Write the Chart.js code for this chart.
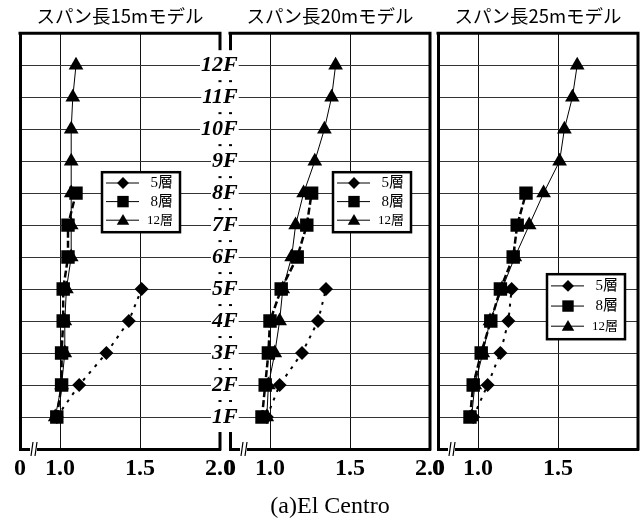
<!DOCTYPE html>
<html>
<head>
<meta charset="utf-8">
<script src="https://cdn.jsdelivr.net/npm/chart.js@4.4.0/dist/chart.umd.min.js"></script>
<style>
    html, body { margin: 0; padding: 0; background: #fff; overflow: hidden; width: 640px; height: 524px; }
    canvas { position: absolute; top: 0; }
</style>
</head>
<body>
<canvas id="c15" style="left:0px" width="250" height="524"></canvas>
<canvas id="c25" style="left:400px" width="280" height="524"></canvas>
<canvas id="c20" style="left:150px" width="310" height="524"></canvas>
<script>
// tick labels
var floors = ['1F', '2F', '3F', '4F', '5F', '6F', '7F', '8F', '9F', '10F', '11F', '12F'];
var xTicks = [0.75, 1.0, 1.5, 2.0];
var xTickLabels = ['0', '1.0', '1.5', '2.0'];
var seriesNames = ['5層', '8層', '12層'];
var panelTitles = ['スパン長15mモデル', 'スパン長20mモデル', 'スパン長25mモデル'];
var caption = '(a)El Centro';

// values per floor, from 1F upward
var span15_5 = [0.98, 1.12, 1.29, 1.43, 1.51];
var span15_8 = [0.98, 1.01, 1.01, 1.02, 1.02, 1.05, 1.05, 1.10];
var span15_12 = [0.97, 1.01, 1.03, 1.03, 1.04, 1.07, 1.07, 1.07, 1.07, 1.07, 1.08, 1.10];

var span20_5 = [0.98, 1.06, 1.20, 1.30, 1.35];
var span20_8 = [0.95, 0.97, 0.99, 1.00, 1.07, 1.17, 1.23, 1.26];
var span20_12 = [0.98, 0.99, 1.03, 1.06, 1.08, 1.135, 1.16, 1.21, 1.28, 1.34, 1.385, 1.41];

var span25_5 = [0.97, 1.06, 1.14, 1.19, 1.21];
var span25_8 = [0.95, 0.97, 1.02, 1.08, 1.14, 1.22, 1.245, 1.30];
var span25_12 = [0.96, 0.98, 1.03, 1.075, 1.15, 1.23, 1.32, 1.41, 1.51, 1.54, 1.59, 1.62];

var serif = '"Liberation Serif", "Noto Sans CJK JP", serif';

function toPoints(vals) {
    return vals.map((v, i) => ({ x: v, y: i + 1 }));
}

function drawMarker(ctx, style, x, y, r) {
    ctx.beginPath();
    if (style === 'rectRot') {
        ctx.moveTo(x, y - r); ctx.lineTo(x + r, y); ctx.lineTo(x, y + r); ctx.lineTo(x - r, y);
    } else if (style === 'rect') {
        var s = r * Math.SQRT1_2;
        ctx.rect(x - s, y - s, 2 * s, 2 * s);
    } else {
        ctx.moveTo(x, y - r);
        ctx.lineTo(x + r * Math.sin(Math.PI / 3), y + r / 2);
        ctx.lineTo(x - r * Math.sin(Math.PI / 3), y + r / 2);
    }
    ctx.closePath();
    ctx.fill();
}

// top and right edges of the frame + axis break mark
var framePlugin = {
    id: 'frame',
    beforeDatasetsDraw(chart) {
        var ctx = chart.ctx, a = chart.chartArea;
        ctx.save();
        ctx.strokeStyle = '#000';
        ctx.lineWidth = 3;
        ctx.lineCap = 'square';
        ctx.beginPath();
        ctx.moveTo(a.left, a.top);
        ctx.lineTo(a.right, a.top);
        ctx.lineTo(a.right, a.bottom);
        ctx.stroke();
        var bx = a.left + 13, by = a.bottom;
        ctx.fillStyle = '#fff';
        ctx.fillRect(bx - 3, by - 2, 7, 4);
        ctx.lineWidth = 1.2;
        ctx.lineCap = 'butt';
        ctx.beginPath();
        ctx.moveTo(bx - 2, by + 7); ctx.lineTo(bx, by - 7);
        ctx.moveTo(bx + 2, by + 7); ctx.lineTo(bx + 4, by - 7);
        ctx.stroke();
        ctx.restore();
    }
};

// boxed legend placed inside the plot
var boxLegend = {
    id: 'boxLegend',
    afterDraw(chart, args, o) {
        var ctx = chart.ctx, a = chart.chartArea;
        var x = a.left + o.dx, y = a.top + o.dy, w = 78, h = o.h;
        ctx.save();
        ctx.fillStyle = '#fff';
        ctx.fillRect(x, y, w, h);
        ctx.strokeStyle = '#000';
        ctx.lineWidth = 2.5;
        ctx.strokeRect(x, y, w, h);
        chart.data.datasets.forEach((ds, i) => {
            var cy = y + h * (0.18 + i * 0.31);
            ctx.lineWidth = 1;
            ctx.beginPath();
            ctx.moveTo(x + 4, cy); ctx.lineTo(x + 37, cy);
            ctx.stroke();
            ctx.fillStyle = '#000';
            drawMarker(ctx, ds.pointStyle, x + 21, cy + (ds.pointStyle === 'triangle' ? 1 : 0), ds.pointRadius * 0.85);
            ctx.font = (i === 2 ? '13px ' : '15px ') + serif;
            ctx.textAlign = 'right';
            ctx.textBaseline = 'middle';
            ctx.fillText(ds.label, x + 71, cy);
        });
        ctx.restore();
    }
};

function makeDatasets(v5, v8, v12) {
    return [{
        label: seriesNames[0],
        data: toPoints(v5),
        borderColor: '#000', backgroundColor: '#000',
        borderWidth: 2, borderDash: [3, 6],
        pointStyle: 'rectRot', pointRadius: 7, pointBorderWidth: 0,
        order: 2
    }, {
        label: seriesNames[1],
        data: toPoints(v8),
        borderColor: '#000', backgroundColor: '#000',
        borderWidth: 2.5, borderDash: [7, 3],
        pointStyle: 'rect', pointRadius: 9.5, pointBorderWidth: 0,
        order: 0
    }, {
        label: seriesNames[2],
        data: toPoints(v12),
        borderColor: '#000', backgroundColor: '#000',
        borderWidth: 1,
        pointStyle: 'triangle', pointRadius: 8.5, pointBorderWidth: 0,
        order: 1
    }];
}

function makeChart(id, title, datasets, cfg) {
    var xScale = {
        type: 'linear',
        min: 0.75, max: 2.0,
        afterBuildTicks: s => { s.ticks = xTicks.map(v => ({ value: v })); },
        ticks: {
            autoSkip: false, maxRotation: 0, padding: 8, color: '#000',
            font: { family: serif, size: 24, weight: 'bold', lineHeight: 1 },
            // the last panel is cut off at the page edge, its 2.0 label is not shown
            callback: (v, i) => (cfg.hideLast && i === xTicks.length - 1) ? '' : xTickLabels[i]
        },
        grid: {
            drawTicks: false, lineWidth: 1,
            color: c => (c.tick && (c.tick.value === 1 || c.tick.value === 1.5)) ? '#111' : 'rgba(0,0,0,0)'
        },
        border: { display: true, color: '#000', width: 3 }
    };
    if (cfg.caption) {
        xScale.title = {
            display: true, text: cfg.caption, color: '#000',
            font: { family: serif, size: 24, lineHeight: 1 },
            padding: { top: 6, bottom: 0 }
        };
    }
    var yScale = {
        type: 'linear',
        min: 0, max: 13,
        afterBuildTicks: s => { s.ticks = floors.map((f, i) => ({ value: i + 1 })); },
        afterFit: s => { s.width = cfg.yWidth; },
        ticks: {
            display: cfg.floorLabels,
            // mirrored so the labels can sit over both panel edges
            mirror: true, crossAlign: 'far',
            padding: -29, color: '#000',
            font: { family: serif, size: 22, weight: 'bold', style: 'italic', lineHeight: 1 },
            showLabelBackdrop: true, backdropColor: '#fff',
            backdropPadding: { top: 4, bottom: 4, left: 1, right: 1 },
            callback: (v, i) => floors[i]
        },
        grid: { drawTicks: false, color: '#333', lineWidth: 1 },
        border: { display: true, color: '#000', width: 3 }
    };

    return new Chart(document.getElementById(id), {
        type: 'line',
        data: { datasets: datasets },
        options: {
            responsive: false,
            animation: false,
            layout: { padding: cfg.padding },
            scales: { x: xScale, y: yScale },
            plugins: {
                legend: { display: false },
                tooltip: { enabled: false },
                title: {
                    display: true, text: title, fullSize: false, color: '#000',
                    font: { family: '"Noto Sans CJK JP"', size: 18.5, weight: 'normal', lineHeight: 1.2 },
                    padding: { top: 0, bottom: 6 }
                },
                boxLegend: cfg.legend
            }
        },
        plugins: [framePlugin, boxLegend]
    });
}

makeChart('c15', panelTitles[0], makeDatasets(span15_5, span15_8, span15_12), {
    padding: { left: 20, right: 30, top: 5, bottom: 35 },
    yWidth: 0, floorLabels: false,
    legend: { dx: 82, dy: 139, h: 60 }
});

makeChart('c25', panelTitles[2], makeDatasets(span25_5, span25_8, span25_12), {
    padding: { left: 38, right: 42, top: 5, bottom: 35 },
    yWidth: 0, floorLabels: false, hideLast: true,
    legend: { dx: 109, dy: 241, h: 65 }
});

makeChart('c20', panelTitles[1], makeDatasets(span20_5, span20_8, span20_12), {
    padding: { left: 40, right: 30, top: 5, bottom: 5 },
    yWidth: 40, floorLabels: true, caption: caption,
    legend: { dx: 103, dy: 139, h: 60 }
});
</script>
</body>
</html>
